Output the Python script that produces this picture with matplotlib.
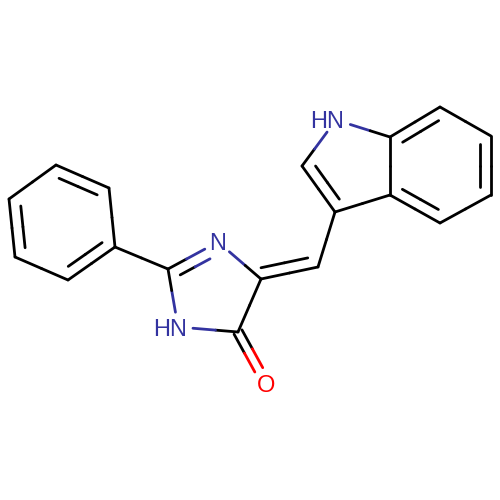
import matplotlib
matplotlib.use("Agg")
import matplotlib.pyplot as plt
import numpy as np

# atom positions (pixels, y down)
atom_x = [56, 109, 115, 68, 15, 9, 168, 218, 261, 238, 178, 266, 318, 335, 302, 336, 390, 390, 440, 491, 491, 440]
atom_y = [165, 188, 247, 280, 257, 199, 269, 242, 279, 332, 327, 383, 267, 212, 166, 120, 137, 195, 223, 195, 136, 107]
atom_el = ["C", "C", "C", "C", "C", "C", "C", "N", "C", "C", "N", "O", "C", "C", "C", "N", "C", "C", "C", "C", "C", "C"]

# atom a, atom b, order, side of second line (0 = both sides of the axis)
bonds = [
    (0, 1, 2, 1), (1, 2, 1, 0), (2, 3, 2, 1), (3, 4, 1, 0), (4, 5, 2, 1), (5, 0, 1, 0),
    (2, 6, 1, 0), (6, 7, 2, 1), (7, 8, 1, 0), (8, 9, 1, 0), (9, 10, 1, 0), (10, 6, 1, 0),
    (9, 11, 2, 0), (8, 12, 2, -1), (12, 13, 1, 0), (13, 14, 2, 1), (14, 15, 1, 0),
    (15, 16, 1, 0), (16, 17, 1, 0), (17, 13, 1, 0), (16, 21, 2, 1), (21, 20, 1, 0),
    (20, 19, 2, 1), (19, 18, 1, 0), (18, 17, 2, 1),
]

colors = {"C": "black", "N": "#3333a0", "O": "#ff0000"}
label_text = {7: "N", 10: "HN", 11: "O", 15: "HN"}
label_shift = {7: 0, 10: -8, 11: 0, 15: -9}
label_rise = {7: 0, 10: 0, 11: 0, 15: -1}
label_trim = 15
gap = 11
pair_gap = 4.5
shorten = 0.14
# second line of the exocyclic C=C starts almost level with the ring carbon
shorten_start = {(8, 12): 0.04}
lw = 2.0

fig = plt.figure(figsize=(5, 5), dpi=100)
ax = fig.add_axes([0, 0, 1, 1])
ax.set_xlim(0, 500)
ax.set_ylim(500, 0)
ax.axis("off")


def draw_segment(p, q, col_p, col_q):
    mid = (p + q) / 2
    ax.plot([p[0], mid[0]], [p[1], mid[1]], color=col_p, lw=lw, solid_capstyle="round")
    ax.plot([mid[0], q[0]], [mid[1], q[1]], color=col_q, lw=lw, solid_capstyle="round")


for a, b, order, side in bonds:
    p = np.array([atom_x[a], atom_y[a]], dtype=float)
    q = np.array([atom_x[b], atom_y[b]], dtype=float)
    d = q - p
    length = np.hypot(*d)
    u = d / length
    n = np.array([-u[1], u[0]])
    start = label_trim if a in label_text else 0
    end = label_trim if b in label_text else 0
    p1 = p + u * start
    q1 = q - u * end
    col_a, col_b = colors[atom_el[a]], colors[atom_el[b]]
    if order == 1:
        draw_segment(p1, q1, col_a, col_b)
    elif side == 0:
        draw_segment(p1 + n * pair_gap, q1 + n * pair_gap, col_a, col_b)
        draw_segment(p1 - n * pair_gap, q1 - n * pair_gap, col_a, col_b)
    else:
        draw_segment(p1, q1, col_a, col_b)
        s = max(start, length * shorten_start.get((a, b), shorten))
        e = max(end, length * shorten)
        draw_segment(p + u * s + n * gap * side, q - u * e + n * gap * side, col_a, col_b)

for i, txt in label_text.items():
    ax.text(atom_x[i] + label_shift[i], atom_y[i] + label_rise[i], txt, color=colors[atom_el[i]],
            family="Liberation Sans", fontsize=17, ha="center", va="center_baseline")

fig.savefig("out.png", dpi=100)
